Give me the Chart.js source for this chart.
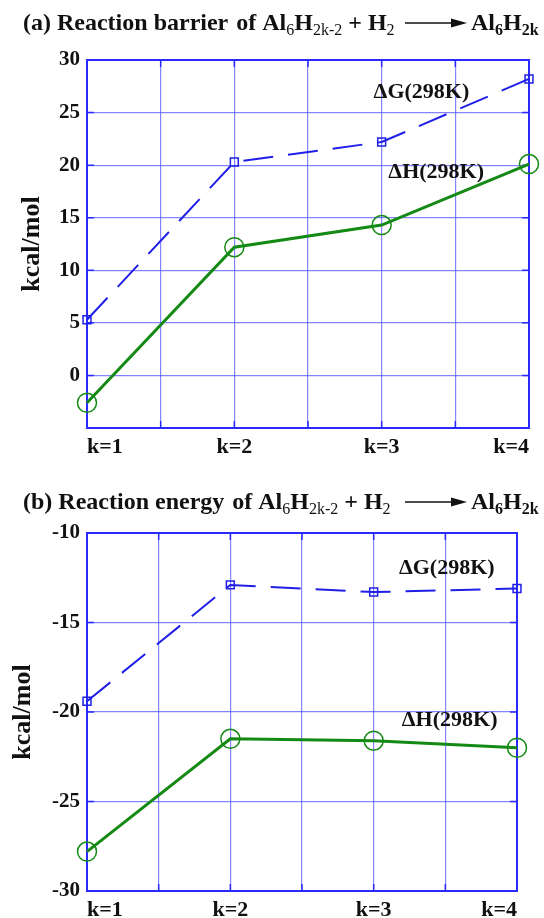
<!DOCTYPE html>
<html>
<head>
<meta charset="utf-8">
<script src="https://cdn.jsdelivr.net/npm/chart.js@4"></script>
<style>
  body { margin: 0; background: #fff; width: 544px; height: 918px; overflow: hidden; }
  .panel { position: absolute; left: 0; width: 544px; }
</style>
</head>
<body>
<div class="panel" style="top:0;height:460px"><canvas id="chartA"></canvas></div>
<div class="panel" style="top:460px;height:458px"><canvas id="chartB"></canvas></div>
<script>
// k = 1..4 along the bottom
const kValues = [1, 2, 3, 4];

// (a) reaction barrier, kcal/mol
const barrierG = [5.3, 20.3, 22.2, 28.2];
const barrierH = [-2.6, 12.2, 14.3, 20.1];
const barrierRange = [-5, 30];

// (b) reaction energy, kcal/mol
const energyG = [-19.4, -12.9, -13.3, -13.1];
const energyH = [-27.8, -21.5, -21.6, -22.0];
const energyRange = [-30, -10];

const labelG = 'ΔG(298K)';
const labelH = 'ΔH(298K)';

const serif = "'Liberation Serif', 'Times New Roman', serif";
const blue = '#1f1fe8';
const green = '#148a14';
const frameBlue = '#2a2aff';
const gridBlue = 'rgba(90, 90, 255, 0.75)';

const framePlugin = {
    id: 'frame',
    beforeDatasetsDraw(chart) {
        const { ctx, chartArea: a, scales } = chart;
        ctx.save();
        ctx.strokeStyle = frameBlue;
        ctx.lineWidth = 2;
        ctx.strokeRect(a.left, a.top, a.right - a.left, a.bottom - a.top);
        ctx.lineWidth = 1.5;
        ctx.beginPath();
        scales.y.ticks.forEach(t => {
            const py = scales.y.getPixelForValue(t.value);
            ctx.moveTo(a.left, py); ctx.lineTo(a.left + 7, py);
            ctx.moveTo(a.right, py); ctx.lineTo(a.right - 7, py);
        });
        scales.x.ticks.forEach(t => {
            const px = scales.x.getPixelForValue(t.value);
            ctx.moveTo(px, a.bottom); ctx.lineTo(px, a.bottom - 7);
            ctx.moveTo(px, a.top); ctx.lineTo(px, a.top + 7);
        });
        ctx.stroke();
        ctx.restore();
    }
};

// curve names placed in data units
const curveLabelPlugin = {
    id: 'curveLabels',
    afterDatasetsDraw(chart, args, opts) {
        const { ctx, scales } = chart;
        ctx.save();
        ctx.fillStyle = '#111';
        ctx.font = 'bold 22px ' + serif;
        ctx.textAlign = 'center';
        ctx.textBaseline = 'middle';
        (opts.items || []).forEach(it => {
            ctx.fillText(it.text, scales.x.getPixelForValue(it.x), scales.y.getPixelForValue(it.y));
        });
        ctx.restore();
    }
};

// title with sub-scripts and a reaction arrow
const richTitlePlugin = {
    id: 'richTitle',
    afterDraw(chart, args, opts) {
        const ctx = chart.ctx;
        const base = opts.baseline;
        let x = 23;
        ctx.save();
        ctx.fillStyle = '#111';
        ctx.textBaseline = 'alphabetic';
        const put = (txt, kind) => {
            if (kind === 'b') ctx.font = 'bold 24px ' + serif;
            else if (kind === 's') ctx.font = '16px ' + serif;
            else ctx.font = 'bold 16px ' + serif;
            const dy = kind === 'b' ? 0 : 5;
            ctx.fillText(txt, x, base + dy);
            x += ctx.measureText(txt).width;
        };
        put(opts.head, 'b');
        x += 8;
        [['of Al', 'b'], ['6', 's'], ['H', 'b'], ['2k-2', 's'], [' + H', 'b'], ['2', 's']]
            .forEach(p => put(p[0], p[1]));
        // arrow
        const ay = base - 7;
        ctx.strokeStyle = '#111';
        ctx.lineWidth = 1.6;
        ctx.beginPath();
        ctx.moveTo(405, ay); ctx.lineTo(455, ay);
        ctx.stroke();
        ctx.beginPath();
        ctx.moveTo(467, ay); ctx.lineTo(451, ay - 4.5); ctx.lineTo(451, ay + 4.5);
        ctx.closePath();
        ctx.fill();
        x = 471;
        [['Al', 'b'], ['6', 'sb'], ['H', 'b'], ['2k', 'sb']].forEach(p => put(p[0], p[1]));
        ctx.restore();
    }
};

function makePanel(id, gVals, hVals, range, pad, xHeight, titleOpts, labelItems, yTitlePad) {
    const ctx = document.getElementById(id).getContext('2d');
    return new Chart(ctx, {
        type: 'line',
        data: {
            datasets: [{
                label: labelG,
                data: kValues.map((k, i) => ({ x: k, y: gVals[i] })),
                borderColor: blue,
                borderWidth: 2,
                borderDash: [30, 15],
                pointStyle: 'rect',
                pointRadius: 5.6,
                pointBorderWidth: 1.5,
                pointBorderColor: blue,
                pointBackgroundColor: 'rgba(0,0,0,0)',
                tension: 0,
                clip: false
            }, {
                label: labelH,
                data: kValues.map((k, i) => ({ x: k, y: hVals[i] })),
                borderColor: green,
                borderWidth: 3,
                pointStyle: 'circle',
                pointRadius: 9.5,
                pointBorderWidth: 1.5,
                pointBorderColor: green,
                pointBackgroundColor: 'rgba(0,0,0,0)',
                tension: 0,
                clip: false
            }]
        },
        options: {
            responsive: true,
            maintainAspectRatio: false,
            animation: false,
            layout: { padding: { top: pad.top, right: pad.right, left: 0, bottom: 0 } },
            scales: {
                x: {
                    type: 'linear',
                    min: 1, max: 4,
                    afterFit: s => { s.height = xHeight; s.paddingLeft = 0; s.paddingRight = 0; },
                    border: { display: false },
                    grid: { color: gridBlue, lineWidth: 1.2, drawTicks: false },
                    ticks: {
                        stepSize: 0.5,
                        autoSkip: false,
                        maxRotation: 0,
                        align: 'inner',
                        padding: 6,
                        color: '#111',
                        font: { family: serif, size: 22, weight: 'bold' },
                        callback: v => Number.isInteger(v) ? 'k=' + v : ''
                    }
                },
                y: {
                    min: range[0], max: range[1],
                    afterFit: s => { s.width = 87; s.paddingTop = 0; s.paddingBottom = 0; },
                    border: { display: false },
                    grid: { color: gridBlue, lineWidth: 1.2, drawTicks: false },
                    ticks: {
                        stepSize: 5,
                        padding: 7,
                        color: '#111',
                        font: { family: serif, size: 21, weight: 'bold' },
                        callback: v => (id === 'chartA' && v === -5) ? '' : v
                    },
                    title: {
                        display: true,
                        text: 'kcal/mol',
                        color: '#111',
                        padding: { top: yTitlePad, bottom: 0 },
                        font: { family: serif, size: 26, weight: 'bold' }
                    }
                }
            },
            plugins: {
                legend: { display: false },
                tooltip: { enabled: false },
                richTitle: titleOpts,
                curveLabels: { items: labelItems }
            }
        },
        plugins: [framePlugin, curveLabelPlugin, richTitlePlugin]
    });
}

makePanel('chartA', barrierG, barrierH, barrierRange, { top: 60, right: 15 }, 32,
    { head: '(a) Reaction barrier', baseline: 30 },
    [{ text: labelG, x: 3.27, y: 26.9 }, { text: labelH, x: 3.37, y: 19.3 }], 17);

makePanel('chartB', energyG, energyH, energyRange, { top: 73, right: 27 }, 27,
    { head: '(b) Reaction energy', baseline: 49 },
    [{ text: labelG, x: 3.51, y: -11.95 }, { text: labelH, x: 3.53, y: -20.45 }], 8);
</script>
</body>
</html>
